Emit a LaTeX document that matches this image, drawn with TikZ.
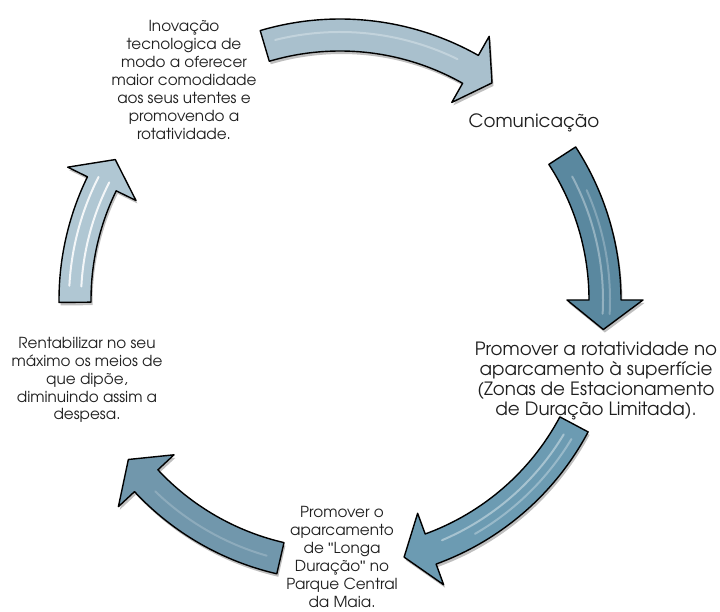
\documentclass[tikz,border=0pt]{standalone}
\usepackage{fontspec}
\setmainfont{texgyreadventor-regular.otf}
\newfontfamily\quotefont{Liberation Sans}
\usetikzlibrary{shadows}
\tikzset{
  arrowshape/.style={draw=black, line width=1.4pt, line join=round,
    drop shadow={shadow xshift=1.5pt, shadow yshift=-3pt, opacity=0.25, fill=black}},
  gloss/.style={line width=2pt, draw=white, opacity=0.55, line cap=round},
  smalltxt/.style={inner sep=0pt, align=center, text=black!88, font=\fontsize{15.2}{17.9}\selectfont},
  bigtxt/.style={inner sep=0pt, align=center, text=black!88, font=\fontsize{18.3}{20}\selectfont}
}
\newcommand{\sq}{{\quotefont\char34}}
\definecolor{lightarrow}{HTML}{A9C0CD}
\definecolor{lightarrowb}{HTML}{B0C7D3}
\definecolor{darkarrow}{HTML}{5A889F}
\definecolor{midarrow}{HTML}{6C9BB2}
\definecolor{midarrowb}{HTML}{7197AC}
% #1 tail angle, #2 head base angle, #3 tip angle, #4 colour
\newcommand{\cyclearrow}[4]{%
  \path[arrowshape, fill=#4] (#1:281pt) arc[start angle=#1, end angle=#2, radius=281pt]
    -- (#2:303pt) -- (#3:265pt) -- (#2:227pt) -- (#2:249pt)
    arc[start angle=#2, end angle=#1, radius=249pt] -- cycle;
}
\begin{document}
\begin{tikzpicture}[x=1pt,y=1pt]
\useasboundingbox (0,0) rectangle (720,612);
\fill[white] (0,0) rectangle (720,612);
\begin{scope}[shift={(340pt,312pt)}]
  % arrow 1 (top)
  \cyclearrow{106.5}{60.5}{55}{lightarrow}
  \draw[gloss, opacity=0.3] (104:268pt) arc[start angle=104, end angle=64, radius=268pt];
  % arrow 2 (right)
  \cyclearrow{33}{0}{-6.4}{darkarrow}
  \draw[gloss, opacity=0.35] (28:263pt) arc[start angle=28, end angle=-3, radius=263pt];
  \draw[gloss, opacity=0.25] (24:270pt) arc[start angle=24, end angle=-3, radius=270pt];
  % arrow 3 (lower right)
  \cyclearrow{-28}{-70}{-76}{midarrow}
  \draw[gloss, opacity=0.4] (-31:261pt) arc[start angle=-31, end angle=-67, radius=261pt];
  \draw[gloss, opacity=0.3] (-31:270pt) arc[start angle=-31, end angle=-60, radius=270pt];
  % arrow 4 (lower left)
  \cyclearrow{-103}{-137}{-143}{midarrowb}
  \draw[gloss, opacity=0.2] (-106:266pt) arc[start angle=-106, end angle=-134, radius=266pt];
  % arrow 5 (left)
  \cyclearrow{180.5}{154}{148}{lightarrowb}
  \draw[gloss, opacity=0.85] (177:259pt) arc[start angle=177, end angle=153, radius=259pt];
  \draw[gloss, opacity=0.85] (177:271pt) arc[start angle=177, end angle=153, radius=271pt];
\end{scope}
% texts
\node[smalltxt] (tl) at (184,532) {Inovação\\tecnologica de\\modo a oferecer\\maior comodidade\\aos seus utentes e\\promovendo a\\rotatividade.};
\node[bigtxt] (com) at (534,489) {Comunicação};
\node[bigtxt] (rt) at (596,231) {Promover a rotatividade no\\aparcamento à superfície\\(Zonas de Estacionamento\\de Duração Limitada).};
\node[smalltxt] (bt) at (342,55) {Promover o\\aparcamento\\de \sq Longa\\Duração\sq{} no\\Parque Central\\da Maia.};
\node[smalltxt] (lt) at (87,232) {Rentabilizar no seu\\máximo os meios de\\que dipõe,\\diminuindo assim a\\despesa.};
\end{tikzpicture}
\end{document}
